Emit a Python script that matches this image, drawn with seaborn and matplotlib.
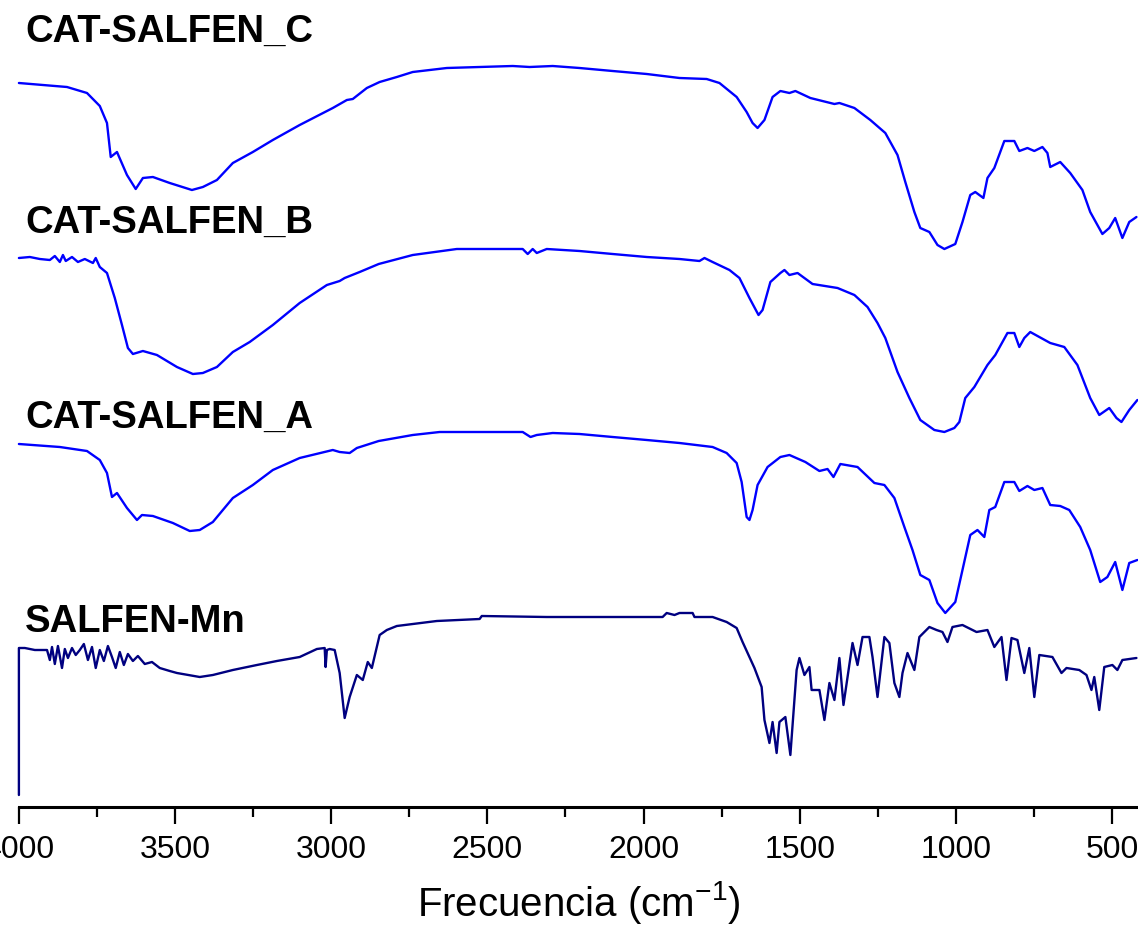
import matplotlib
matplotlib.use("Agg")
from matplotlib import pyplot as plt
from matplotlib.ticker import MultipleLocator
import seaborn as sns
import pandas as pd

# wavenumber (cm-1) and stacked transmittance (a.u.)
wn_c = [4000, 3846, 3782, 3741, 3718, 3706, 3686, 3654, 3626, 3603, 3571, 3517, 3446, 3411,
        3366, 3315, 3251, 3187, 3101, 2995, 2950, 2931, 2886, 2845, 2790, 2739, 2630, 2525,
        2419, 2365, 2291, 2205, 2099, 1990, 1885, 1798, 1757, 1702, 1670, 1651, 1635, 1613,
        1587, 1562, 1533, 1514, 1466, 1389, 1373, 1325, 1274, 1226, 1187, 1162, 1133, 1114,
        1085, 1059, 1037, 1002, 979, 954, 938, 912, 899, 877, 845, 813, 797, 771, 749, 723,
        707, 698, 666, 634, 595, 570, 531, 509, 490, 467, 445, 422]
t_c = [72.4, 72.0, 71.4, 70.1, 68.4, 65.0, 65.5, 63.2, 61.8, 62.9, 63.0, 62.4, 61.7, 62.0,
       62.7, 64.4, 65.5, 66.7, 68.2, 69.9, 70.7, 70.8, 71.9, 72.5, 73.0, 73.5, 73.9, 74.0,
       74.1, 74.0, 74.1, 73.9, 73.6, 73.3, 72.9, 72.8, 72.4, 71.0, 69.5, 68.4, 67.9, 68.7,
       71.0, 71.6, 71.4, 71.6, 70.9, 70.3, 70.4, 69.9, 68.7, 67.4, 65.2, 62.5, 59.5, 57.9,
       57.5, 56.2, 55.8, 56.3, 58.5, 61.2, 61.5, 60.9, 62.9, 63.9, 66.6, 66.6, 65.6, 65.9,
       65.6, 66.0, 65.4, 64.0, 64.5, 63.4, 61.7, 59.5, 57.3, 57.9, 58.9, 56.9, 58.5, 59.0]

wn_b = [4000, 3965, 3933, 3901, 3885, 3869, 3859, 3850, 3830, 3811, 3789, 3763, 3754, 3741,
        3718, 3693, 3670, 3651, 3635, 3603, 3558, 3494, 3443, 3411, 3366, 3315, 3261, 3187,
        3101, 3014, 2973, 2957, 2909, 2848, 2739, 2598, 2387, 2371, 2355, 2342, 2310, 2205,
        2099, 1990, 1885, 1821, 1805, 1779, 1725, 1693, 1661, 1632, 1619, 1594, 1562, 1549,
        1533, 1507, 1459, 1379, 1325, 1283, 1251, 1226, 1187, 1149, 1114, 1069, 1037, 1005,
        989, 970, 941, 899, 874, 835, 813, 797, 781, 762, 698, 653, 611, 570, 541, 509, 486,
        470, 445, 419]
t_b = [54.9, 55.0, 54.8, 54.7, 55.1, 54.5, 55.2, 54.6, 55.0, 54.5, 54.8, 54.4, 54.9, 54.0,
       53.4, 50.9, 48.2, 45.9, 45.3, 45.6, 45.2, 44.0, 43.3, 43.4, 44.0, 45.5, 46.5, 48.2,
       50.4, 52.2, 52.6, 52.9, 53.5, 54.3, 55.2, 55.8, 55.8, 55.3, 55.8, 55.4, 55.8, 55.6,
       55.3, 55.0, 54.8, 54.6, 54.9, 54.5, 53.7, 52.9, 50.9, 49.2, 49.7, 52.5, 53.4, 53.7,
       53.2, 53.4, 52.3, 51.9, 51.2, 50.0, 48.4, 46.9, 43.5, 40.9, 38.7, 37.7, 37.5, 37.9,
       38.5, 40.9, 42.0, 44.2, 45.2, 47.4, 47.4, 46.0, 46.9, 47.5, 46.4, 46.0, 44.2, 40.9,
       39.2, 39.9, 38.9, 38.5, 39.7, 40.7]

wn_a = [4000, 3869, 3782, 3741, 3718, 3702, 3686, 3654, 3622, 3606, 3571, 3507, 3453, 3421,
        3379, 3315, 3251, 3187, 3101, 2995, 2973, 2941, 2918, 2848, 2739, 2653, 2387, 2362,
        2342, 2291, 2205, 2099, 1990, 1885, 1779, 1734, 1702, 1686, 1670, 1661, 1651, 1635,
        1603, 1562, 1533, 1482, 1437, 1411, 1392, 1370, 1315, 1261, 1229, 1197, 1165, 1139,
        1114, 1085, 1059, 1034, 1002, 979, 954, 931, 909, 893, 874, 845, 813, 797, 771, 749,
        723, 698, 666, 637, 602, 570, 538, 515, 490, 467, 445, 419]
t_a = [36.3, 36.0, 35.6, 34.7, 33.4, 31.0, 31.4, 29.9, 28.7, 29.2, 29.1, 28.4, 27.6, 27.7,
       28.5, 30.9, 32.2, 33.7, 34.9, 35.7, 35.5, 35.4, 35.9, 36.6, 37.2, 37.5, 37.5, 37.0,
       37.2, 37.4, 37.3, 37.0, 36.7, 36.4, 36.0, 35.4, 34.4, 32.5, 29.0, 28.7, 29.7, 32.2,
       34.0, 35.0, 35.2, 34.5, 33.6, 33.8, 33.0, 34.3, 34.0, 32.4, 32.2, 30.9, 28.0, 25.7,
       23.2, 22.7, 20.4, 19.4, 20.5, 23.7, 27.2, 27.7, 27.0, 29.7, 30.0, 32.5, 32.5, 31.6,
       32.1, 31.7, 31.9, 30.2, 30.1, 29.7, 28.0, 25.7, 22.5, 23.0, 24.5, 21.7, 24.4, 24.7]

wn_mn = [4000, 4000, 3981, 3949, 3910, 3901, 3894, 3885, 3875, 3862, 3853, 3843, 3830, 3818,
         3805, 3792, 3779, 3766, 3754, 3741, 3728, 3715, 3702, 3690, 3677, 3664, 3651, 3635,
         3619, 3597, 3574, 3549, 3517, 3494, 3421, 3379, 3315, 3238, 3174, 3101, 3046, 3021,
         3018, 3014, 3005, 2989, 2973, 2957, 2941, 2918, 2899, 2883, 2870, 2845, 2822, 2790,
         2739, 2662, 2525, 2518, 2310, 1939, 1926, 1901, 1885, 1843, 1837, 1779, 1734, 1702,
         1683, 1661, 1645, 1622, 1613, 1597, 1587, 1574, 1565, 1546, 1530, 1510, 1501, 1485,
         1469, 1462, 1437, 1421, 1405, 1389, 1373, 1360, 1331, 1315, 1299, 1277, 1267, 1251,
         1229, 1213, 1197, 1181, 1171, 1155, 1133, 1117, 1085, 1062, 1043, 1027, 1011, 979,
         934, 899, 877, 854, 838, 822, 803, 781, 765, 749, 733, 691, 662, 646, 605, 582, 566,
         557, 541, 525, 499, 483, 467, 422]
t_mn = [1.2, 15.9, 15.9, 15.7, 15.7, 14.7, 16.0, 14.3, 16.1, 13.9, 15.8, 14.9, 15.9, 15.2,
        15.7, 16.3, 14.7, 16.0, 13.9, 15.7, 14.6, 16.1, 15.0, 13.9, 15.5, 14.2, 15.3, 14.6,
        15.1, 14.3, 14.5, 13.9, 13.6, 13.4, 13.0, 13.2, 13.7, 14.2, 14.6, 15.0, 15.8, 15.9,
        14.0, 15.7, 15.8, 15.7, 13.4, 8.9, 11.0, 13.2, 12.7, 14.5, 13.9, 17.2, 17.7, 18.1,
        18.3, 18.6, 18.8, 19.1, 19.0, 19.0, 19.4, 19.2, 19.4, 19.4, 19.0, 19.0, 18.5, 17.9,
        16.5, 15.0, 13.9, 12.0, 8.7, 6.4, 8.5, 5.4, 8.5, 9.0, 5.2, 13.7, 14.9, 13.2,
        14.0, 11.7, 11.7, 8.7, 12.4, 10.7, 14.9, 10.2, 16.4, 14.2, 17.0, 17.0, 15.0, 11.0,
        17.0, 16.4, 12.4, 11.0, 13.4, 15.4, 13.7, 17.0, 18.0, 17.7, 17.5, 16.5, 18.0, 18.2,
        17.5, 17.7, 16.0, 17.0, 12.7, 16.9, 16.7, 13.4, 15.9, 11.0, 15.2, 15.0, 13.4, 13.9,
        13.7, 13.2, 11.7, 13.0, 9.7, 14.0, 14.2, 13.7, 14.7, 14.9]

names = ["CAT-SALFEN_C", "CAT-SALFEN_B", "CAT-SALFEN_A", "SALFEN-Mn"]
label_y = [76.5, 57.4, 37.9, 17.5]
colors = ["#0000ff", "#0000ff", "#0000ff", "#000080"]

sns.set_theme(style="white")
plt.rcParams["font.family"] = ["Liberation Sans", "DejaVu Sans"]
plt.rcParams["text.color"] = "black"
plt.rcParams["axes.labelcolor"] = "black"
plt.rcParams["xtick.color"] = "black"
plt.rcParams["mathtext.fontset"] = "custom"
plt.rcParams["mathtext.rm"] = "Liberation Sans"

fig = plt.figure(figsize=(11.38, 9.3), dpi=100)
ax = fig.add_axes([18.9 / 1138, 123 / 930, 1 - 18.9 / 1138, 807 / 930])

series = [(wn_c, t_c), (wn_b, t_b), (wn_a, t_a), (wn_mn, t_mn)]
for (wn, t), name, col in zip(series, names, colors):
    df = pd.DataFrame({"wn": wn, "t": t})
    sns.lineplot(data=df, x="wn", y="t", sort=False, estimator=None,
                 color=col, linewidth=1.7, ax=ax, clip_on=False)

for name, yy in zip(names, label_y):
    ax.text(3980, yy, name, fontsize=27.5, fontweight="bold", va="baseline",
            ha="left", color="black")

ax.set_xlim(4000, 417)
ax.set_ylim(0, 80.7)
for s in ["top", "left", "right"]:
    ax.spines[s].set_visible(False)
ax.spines["bottom"].set_linewidth(2.2)
ax.spines["bottom"].set_color("black")
ax.set_yticks([])
ax.set_ylabel("")
ax.xaxis.set_major_locator(MultipleLocator(500))
ax.xaxis.set_minor_locator(MultipleLocator(250))
ax.tick_params(axis="x", which="major", direction="out", length=12, width=1.6,
               labelsize=23, pad=8, bottom=True, color="black", labelcolor="black")
ax.tick_params(axis="x", which="minor", direction="out", length=7, width=1.6,
               bottom=True, color="black")
ax.set_xlabel(r"Frecuencia (cm$^{\mathregular{-1}}$)", fontsize=29, labelpad=10,
              color="black")

fig.savefig("out.png", dpi=100)
